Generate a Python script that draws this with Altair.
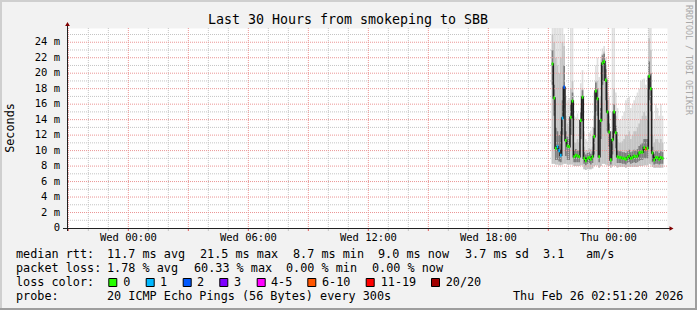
import altair as alt
import pandas as pd
from datetime import datetime, timedelta, timezone

MONO = "DejaVu Sans Mono"
UTC = timezone.utc

# ---- layout (pixels) ----
L, T, PW, PH = 67, 28, 600, 200
W, H = 697, 310

# ---- time frame ----
view_start = datetime(2026, 2, 24, 20, 56, tzinfo=UTC)
view_end = datetime(2026, 2, 26, 2, 56, tzinfo=UTC)
first_sample = datetime(2026, 2, 25, 21, 10, tzinfo=UTC)
step_minutes = 5

label_times = [datetime(2026, 2, 25, 0, 0, tzinfo=UTC), datetime(2026, 2, 25, 6, 0, tzinfo=UTC),
               datetime(2026, 2, 25, 12, 0, tzinfo=UTC), datetime(2026, 2, 25, 18, 0, tzinfo=UTC),
               datetime(2026, 2, 26, 0, 0, tzinfo=UTC)]
y_label_ms = [0, 2, 4, 6, 8, 10, 12, 14, 16, 18, 20, 22, 24]

# ---- data (milliseconds) ----
median_ms = [21.2, 16.8, 10.3, 10.5, 10.0, 9.4, 14.2, 18.2, 11.3, 10.6,
             10.5, 14.3, 16.4, 9.2, 9.4, 9.3, 9.2, 13.9, 16.9, 9.0,
             8.7, 9.0, 9.1, 8.9, 9.2, 11.8, 17.7, 16.7, 9.2, 13.9,
             21.3, 21.5, 19.1, 15.0, 12.4, 8.8, 11.4, 15.0, 12.3, 9.2,
             9.1, 9.1, 9.0, 9.0, 8.9, 9.1, 9.3, 9.0, 9.1, 9.3,
             9.2, 9.3, 9.7, 9.8, 9.8, 10.4, 10.2, 10.3, 19.6, 18.0,
             9.7, 8.8, 9.1, 9.1, 8.9, 9.1, 9.0]
loss_bin = ["0", "0", "0", "1", "1", "1", "1", "2", "0", "0",
            "0", "0", "0", "0", "0", "0", "0", "0", "0", "0",
            "0", "0", "0", "0", "0", "0", "0", "0", "0", "0",
            "0", "0", "0", "0", "0", "0", "0", "0", "0", "0",
            "0", "0", "0", "0", "0", "0", "0", "0", "0", "0",
            "0", "0", "0", "0", "0", "0", "6-10", "0", "0", "0",
            "0", "0", "0", "0", "0", "0", "0"]
smoke_lo_ms = [8.3, 8.3, 8.2, 8.2, 8.1, 8.1, 8.2, 8.3, 8.3, 8.2,
               8.2, 8.2, 8.2, 8.0, 8.0, 8.0, 8.0, 8.1, 8.1, 7.6,
               7.5, 7.6, 7.6, 7.6, 7.7, 8.0, 8.1, 8.1, 7.8, 8.0,
               8.3, 8.3, 8.2, 8.1, 8.0, 7.8, 8.0, 8.1, 8.0, 7.8,
               7.9, 7.9, 7.9, 7.9, 7.8, 7.9, 7.9, 7.9, 7.9, 7.9,
               7.9, 7.9, 8.0, 8.0, 8.0, 8.1, 8.1, 8.1, 8.3, 8.2,
               7.9, 7.8, 7.8, 7.8, 7.8, 7.8, 7.8]
smoke_hi_ms = [26, 26, 26, 26, 26, 26, 26, 25, 17.0, 16.5,
               16.8, 26, 26, 14.5, 14.3, 14.8, 14.0, 18.7, 20.4, 12.5,
               11.5, 11.2, 12.3, 12.6, 13.0, 17.5, 21.0, 22.0, 19.5, 21.8,
               23.2, 23.5, 22.0, 19.5, 17.0, 11.5, 26, 26, 17.5, 15.5,
               14.0, 14.0, 14.5, 15.0, 16.5, 16.8, 17.0, 15.5, 16.0, 16.5,
               17.0, 17.5, 18.0, 19.0, 19.2, 19.3, 18.5, 18.0, 26, 26,
               15.0, 14.0, 16.0, 15.5, 14.5, 16.0, 14.5]
smoke_mid_hi_ms = [25, 24, 22, 21, 20, 22, 24, 23.5, 14.5, 13.5,
                   13.0, 18.0, 19.0, 11.0, 11.0, 11.5, 11.0, 15.5, 18.0, 10.5,
                   10.0, 10.0, 10.3, 10.2, 10.5, 14.5, 19.0, 19.0, 12.0, 17.0,
                   22.5, 22.8, 21.0, 17.5, 14.5, 10.0, 15.0, 18.0, 14.5, 11.5,
                   11.0, 11.0, 11.2, 11.5, 12.0, 12.0, 12.5, 11.5, 12.0, 12.5,
                   12.5, 13.0, 13.5, 14.0, 14.5, 15.0, 14.5, 14.0, 24.5, 23.0,
                   12.0, 11.0, 11.5, 11.5, 11.0, 11.5, 11.0]
core_lo_ms = [18.5, 14.5, 8.8, 8.8, 8.6, 8.5, 12.0, 15.5, 9.3, 8.8,
              8.8, 12.0, 14.0, 8.5, 8.5, 8.5, 8.5, 11.5, 14.5, 8.3,
              8.1, 8.3, 8.4, 8.2, 8.4, 9.5, 15.0, 14.5, 8.5, 11.5,
              18.5, 19.0, 16.5, 12.5, 10.5, 8.2, 9.5, 12.5, 10.3, 8.4,
              8.4, 8.4, 8.3, 8.3, 8.2, 8.4, 8.5, 8.3, 8.4, 8.5,
              8.4, 8.5, 8.7, 8.8, 8.8, 9.0, 9.0, 9.0, 16.5, 15.0,
              8.5, 8.2, 8.3, 8.3, 8.2, 8.3, 8.3]
core_hi_ms = [23.0, 18.5, 13.0, 12.5, 12.0, 12.5, 16.5, 21.0, 12.5, 11.8,
              11.5, 16.0, 17.5, 10.0, 10.2, 10.0, 10.0, 15.0, 17.8, 9.8,
              9.5, 9.7, 9.8, 9.6, 9.9, 13.0, 18.8, 18.0, 10.0, 15.5,
              22.3, 22.5, 20.5, 16.5, 13.5, 9.5, 12.5, 16.0, 13.2, 10.0,
              9.9, 9.9, 9.8, 9.8, 9.7, 9.9, 10.1, 9.8, 9.9, 10.1,
              10.0, 10.2, 10.6, 10.8, 11.0, 11.5, 11.5, 11.5, 21.5, 20.0,
              10.5, 9.6, 9.9, 9.9, 9.7, 9.9, 9.8]

loss_labels = ["0", "1", "2", "3", "4-5", "6-10", "11-19", "20/20"]
loss_colors = ["#26ff00", "#00b8ff", "#0059ff", "#7e00ff", "#ff00ff", "#ff5500", "#ff0000", "#a10000"]

stats_row1 = [("median rtt:", 16), ("11.7 ms avg", 107), ("21.5 ms max", 200), ("8.7 ms min", 293),
              ("9.0 ms now", 378), ("3.7 ms sd", 465), ("3.1", 543), ("am/s", 586)]
stats_row2 = [("packet loss:", 16), ("1.78 % avg", 107), ("60.33 % max", 194), ("0.00 % min", 286),
              ("0.00 % now", 372)]
probe_text = "20 ICMP Echo Pings (56 Bytes) every 300s"
stamp_text = "Thu Feb 26 02:51:20 2026"
title_text = "Last 30 Hours from smokeping to SBB"


def t_ms(dt):
    return int(dt.timestamp() * 1000)


n = len(median_ms)
t0 = [t_ms(first_sample + timedelta(minutes=step_minutes * i)) for i in range(n)]
t1 = [t_ms(first_sample + timedelta(minutes=step_minutes * (i + 1))) for i in range(n)]

df = pd.DataFrame({
    "t": t0, "t2": t1,
    "median": [v / 1000 for v in median_ms],
    "lo": [v / 1000 for v in smoke_lo_ms],
    "hi": [v / 1000 for v in smoke_hi_ms],
    "mid_hi": [v / 1000 for v in smoke_mid_hi_ms],
    "core_lo": [v / 1000 for v in core_lo_ms],
    "core_hi": [v / 1000 for v in core_hi_ms],
    "loss": loss_bin,
})
BAND = 0.0002
df["band_lo"] = df["median"] - BAND
df["band_hi"] = df["median"] + BAND

df_line = pd.DataFrame({"t": t0 + [t1[-1]], "median": list(df["median"]) + [df["median"].iloc[-1]]})

hours = pd.date_range("2026-02-24 21:00", "2026-02-26 02:00", freq="h", tz="UTC")
minor_hours = pd.DataFrame({"t": [t_ms(h) for h in hours if h.hour % 3 != 0]})
major_hours = pd.DataFrame({"t": [t_ms(h) for h in hours if h.hour % 3 == 0]})
minor_y = pd.DataFrame({"v": [v / 1000 for v in range(1, 26) if v % 2 == 1]})
major_y = pd.DataFrame({"v": [v / 1000 for v in range(2, 26, 2)]})

xlab_df = pd.DataFrame({"t": [t_ms(d) for d in label_times],
                        "lab": [d.strftime("%a %H:%M") for d in label_times]})
ylab_df = pd.DataFrame({"v": [v / 1000 for v in y_label_ms],
                        "lab": ["0" if v == 0 else f"{v} m" for v in y_label_ms]})

XS = alt.Scale(type="utc", domain=[t_ms(view_start), t_ms(view_end)])
YS = alt.Scale(domain=[0, 0.02584], nice=False, zero=False)


def X(field="t"):
    return alt.X(f"{field}:T", scale=XS, axis=None)


def Y(field):
    return alt.Y(f"{field}:Q", scale=YS, axis=None)


ONE = pd.DataFrame({"a": [0]})


def txt(s, px, py, size=11.8, align="left", angle=0, color="#000000"):
    mk = dict(text=s, align=align, baseline="alphabetic", font=MONO, fontSize=size, color=color)
    if angle:
        mk["angle"] = angle
    return alt.Chart(ONE).mark_text(**mk).encode(x=alt.value(px - L), y=alt.value(py - T))


def box(x0, y0, x1, y1, fill, stroke=None):
    mk = dict(fill=fill)
    if stroke:
        mk.update(stroke=stroke, strokeWidth=1)
    else:
        mk.update(strokeWidth=0)
    return alt.Chart(ONE).mark_rect(**mk).encode(
        x=alt.value(x0 - L), x2=alt.value(x1 - L), y=alt.value(y0 - T), y2=alt.value(y1 - T))


def seg(x0, y0, x1, y1, color, width=1):
    return alt.Chart(ONE).mark_rule(color=color, strokeWidth=width).encode(
        x=alt.value(x0 - L), x2=alt.value(x1 - L), y=alt.value(y0 - T), y2=alt.value(y1 - T))


layers = []

# smoke
layers.append(alt.Chart(df).mark_rect(color="#e0e0e0", clip=True).encode(
    x=X(), x2="t2:T", y=Y("lo"), y2="hi:Q"))
layers.append(alt.Chart(df).mark_rect(color="#c4c4c4", clip=True).encode(
    x=X(), x2="t2:T", y=Y("lo"), y2="mid_hi:Q"))
layers.append(alt.Chart(df).mark_rect(color="#7e7e7e", clip=True).encode(
    x=X(), x2="t2:T", y=Y("core_lo"), y2="core_hi:Q"))

# grid
GRID_MINOR = "#c4c4c4"
GRID_MAJOR = "#eb9595"
layers.append(alt.Chart(minor_hours).mark_rule(color=GRID_MINOR, strokeDash=[1, 1], strokeWidth=1).encode(x=X()))
layers.append(alt.Chart(minor_y).mark_rule(color=GRID_MINOR, strokeDash=[1, 1], strokeWidth=1).encode(y=Y("v")))
layers.append(alt.Chart(major_hours).mark_rule(color=GRID_MAJOR, strokeDash=[1, 1], strokeWidth=1).encode(x=X()))
layers.append(alt.Chart(major_y).mark_rule(color=GRID_MAJOR, strokeDash=[1, 1], strokeWidth=1).encode(y=Y("v")))
# small ticks below x axis
layers.append(alt.Chart(minor_hours).mark_rule(color=GRID_MINOR, strokeWidth=1).encode(
    x=X(), y=alt.value(PH), y2=alt.value(PH + 3)))
layers.append(alt.Chart(major_hours).mark_rule(color="#e06060", strokeWidth=1).encode(
    x=X(), y=alt.value(PH), y2=alt.value(PH + 3)))

# median line and loss-coloured median marks
layers.append(alt.Chart(df_line).mark_line(interpolate="step-after", color="#202020", strokeWidth=1.5,
                                           clip=True).encode(x=X(), y=Y("median")))
layers.append(alt.Chart(df).mark_rect(clip=True).encode(
    x=X(), x2="t2:T", y=Y("band_lo"), y2="band_hi:Q",
    color=alt.Color("loss:N", scale=alt.Scale(domain=loss_labels, range=loss_colors), legend=None)))

# axis tick labels, placed through the scales
layers.append(alt.Chart(xlab_df).mark_text(font=MONO, fontSize=10.5, align="center", baseline="alphabetic",
                                           color="#000000").encode(
    x=X(), y=alt.value(240.7 - T), text="lab:N"))
layers.append(alt.Chart(ylab_df).mark_text(font=MONO, fontSize=10.5, align="right", baseline="middle",
                                           color="#000000").encode(
    y=Y("v"), x=alt.value(60 - L), text="lab:N"))

# axis lines and arrows
layers.append(seg(63, 228.5, 670, 228.5, "#212121"))
layers.append(seg(67.5, 231, 67.5, 25, "#212121"))
layers.append(alt.Chart(ONE).mark_point(shape="triangle-up", filled=True, size=22, color="#800000", opacity=1).encode(
    x=alt.value(67.5 - L), y=alt.value(24 - T)))
layers.append(alt.Chart(ONE).mark_point(shape="triangle-right", filled=True, size=22, color="#800000", opacity=1).encode(
    x=alt.value(671.5 - L), y=alt.value(228.5 - T)))

# borders (3D frame)
layers.append(box(0, 0, W, 2, "#cfcfcf"))
layers.append(box(0, 0, 2, H, "#cfcfcf"))
layers.append(box(0, H - 2, W, H, "#9e9e9e"))
layers.append(box(W - 2, 0, W, H, "#9e9e9e"))

# texts
layers.append(txt(title_text, 348, 24, size=13.3, align="center"))
layers.append(txt("Seconds", 14, 128, size=11.8, align="center", angle=270))
layers.append(txt("RRDTOOL / TOBI OETIKER", 686, 60, size=8.3, align="center", angle=90, color="#a8a8a8"))
for s, x in stats_row1:
    layers.append(txt(s, x, 258.2))
for s, x in stats_row2:
    layers.append(txt(s, x, 272.1))
layers.append(txt("loss color:", 16, 286))
sq_x = [108.3, 145.7, 182.7, 219.3, 256.7, 307.3, 365.7, 431]
lb_x = [123.3, 160, 197, 234, 271, 322, 380.7, 445.7]
for lab, col, sx, lx in zip(loss_labels, loss_colors, sq_x, lb_x):
    layers.append(box(sx + 0.5, 278.5, sx + 8.5, 286.5, col, stroke="#000000"))
    layers.append(txt(lab, lx, 286))
layers.append(txt("probe:", 16, 299.9))
layers.append(txt(probe_text, 107, 299.9))
layers.append(txt(stamp_text, 513, 299.9))

chart = alt.layer(*layers).properties(
    width=PW, height=PH,
    padding={"left": L, "top": T, "right": W - L - PW, "bottom": H - T - PH},
    autosize=alt.AutoSizeParams(type="none"),
).configure(background="#f2f2f2").configure_view(fill="white", stroke="transparent")

chart.save("out.html", embed_options={"renderer": "svg", "actions": False})
